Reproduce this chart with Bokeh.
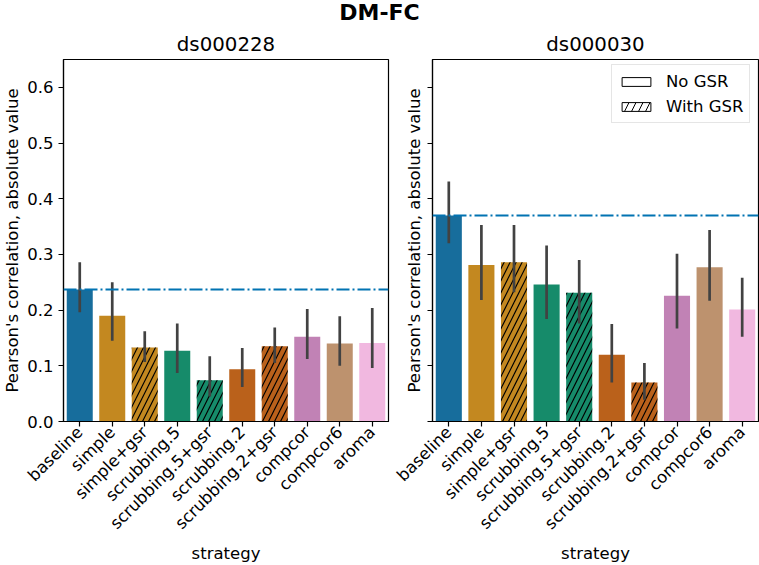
from math import pi
from bokeh.plotting import figure
from bokeh.models import (ColumnDataSource, FactorRange, Range1d, Span, Legend, Div,
                          LegendItem, FixedTicker, PrintfTickFormatter, CustomJSTickFormatter)
from bokeh.layouts import column, row
from bokeh.embed import file_html
from bokeh.resources import INLINE

FONT = "DejaVu Sans"

strategies = ["baseline", "simple", "simple+gsr", "scrubbing.5", "scrubbing.5+gsr",
              "scrubbing.2", "scrubbing.2+gsr", "compcor", "compcor6", "aroma"]
with_gsr = [False, False, True, False, True, False, True, False, False, False]
bar_colors = ["#176d9c", "#c38820", "#c38820", "#168b6a", "#168b6a",
              "#ba611b", "#ba611b", "#c182b5", "#bd926e", "#f1b8e0"]

ds000228_mean = [0.237, 0.190, 0.133, 0.127, 0.074, 0.094, 0.135, 0.152, 0.140, 0.141]
ds000228_low = [0.196, 0.145, 0.107, 0.087, 0.045, 0.062, 0.105, 0.112, 0.100, 0.096]
ds000228_high = [0.286, 0.250, 0.162, 0.176, 0.117, 0.132, 0.169, 0.202, 0.189, 0.204]

ds000030_mean = [0.370, 0.281, 0.286, 0.246, 0.231, 0.120, 0.070, 0.226, 0.277, 0.201]
ds000030_low = [0.320, 0.218, 0.232, 0.184, 0.176, 0.070, 0.039, 0.167, 0.217, 0.152]
ds000030_high = [0.431, 0.353, 0.353, 0.316, 0.290, 0.175, 0.105, 0.301, 0.344, 0.258]

y_ticks = [0.0, 0.1, 0.2, 0.3, 0.4, 0.5, 0.6]
legend_labels = ["No GSR", "With GSR"]

HEADER_H = 26
PANEL_H = 565 - HEADER_H


def make_panel(title, means, lows, highs, width, left, right, show_labels, legend=False):
    p = figure(x_range=FactorRange(*strategies), y_range=Range1d(0, 0.65),
               width=width, height=PANEL_H, title=title, output_backend="svg",
               toolbar_location=None, min_border_left=left, min_border_right=right,
               min_border_top=59 - HEADER_H, min_border_bottom=0)
    p.title.text_font = FONT
    p.title.text_font_size = "19.8px"
    p.title.text_font_style = "normal"
    p.title.text_color = "black"
    p.title.align = "center"
    p.title.standoff = 8
    p.grid.visible = False
    p.outline_line_color = "black"
    p.outline_line_width = 1.2

    hatch = ["/" if g else " " for g in with_gsr]
    src = ColumnDataSource(data=dict(strategy=strategies, mean=means, low=lows, high=highs,
                                     color=bar_colors, hatch=hatch))
    p.vbar(x="strategy", top="mean", width=0.8, source=src, fill_color="color",
           line_color=None, hatch_pattern="hatch", hatch_color="black",
           hatch_scale=12, hatch_weight=1.2)
    p.segment(x0="strategy", y0="low", x1="strategy", y1="high", source=src,
              line_color="#424242", line_width=2.7)
    p.add_layout(Span(location=means[0], dimension="width", line_color="#0173b2",
                      line_width=2, line_dash="13 3 2 3"))

    for ax in p.axis:
        ax.axis_line_width = 1.2
        ax.major_tick_line_width = 1.2
        ax.major_tick_in = 0
        ax.major_tick_out = 5
        ax.minor_tick_line_color = None
        ax.major_label_text_font = FONT
        ax.major_label_text_font_size = "16.5px"
        ax.major_label_text_color = "black"
        ax.axis_label_text_font = FONT
        ax.axis_label_text_font_size = "16.5px"
        ax.axis_label_text_font_style = "normal"
        ax.axis_label_text_color = "black"

    p.xaxis.axis_label = "strategy"
    p.xaxis.major_label_orientation = pi / 4
    p.xaxis.major_label_standoff = 3
    p.xaxis.axis_label_standoff = 1

    p.yaxis.axis_label = "Pearson's correlation, absolute value"
    p.yaxis.ticker = FixedTicker(ticks=y_ticks)
    if show_labels:
        p.yaxis.formatter = PrintfTickFormatter(format="%.1f")
        p.yaxis.major_label_standoff = 5
        p.yaxis.axis_label_standoff = 2
    else:
        p.yaxis.formatter = CustomJSTickFormatter(code="return ''")
        p.yaxis.major_label_standoff = 0
        p.yaxis.axis_label_standoff = 4

    if legend:
        dummy = ColumnDataSource(data=dict(x=["baseline"], top=[-0.5], bottom=[-0.6]))
        r1 = p.vbar(x="x", top="top", bottom="bottom", width=0.8, source=dummy,
                    fill_color="white", line_color="black", line_width=1)
        r2 = p.vbar(x="x", top="top", bottom="bottom", width=0.8, source=dummy,
                    fill_color="white", line_color="black", line_width=1,
                    hatch_pattern="/", hatch_color="black", hatch_scale=14, hatch_weight=1)
        lg = Legend(items=[LegendItem(label=legend_labels[0], renderers=[r1]),
                           LegendItem(label=legend_labels[1], renderers=[r2])],
                    location=(179, 298))
        lg.label_text_font = FONT
        lg.label_text_font_size = "16.5px"
        lg.label_text_color = "black"
        lg.glyph_width = 36
        lg.glyph_height = 11
        lg.label_height = 20
        lg.spacing = 5
        lg.padding = 6
        lg.margin = 0
        lg.label_standoff = 12
        lg.border_line_color = "#cccccc"
        lg.border_line_width = 1
        lg.background_fill_alpha = 0.8
        p.add_layout(lg)
    return p


p1 = make_panel("ds000228", ds000228_mean, ds000228_low, ds000228_high, 390, 62, 2, True)
p2 = make_panel("ds000030", ds000030_mean, ds000030_low, ds000030_high, 369, 42, 1, False,
                legend=True)

header = Div(text="DM-FC", width=759, height=HEADER_H, margin=0,
             styles={"text-align": "center", "font-family": FONT, "font-size": "22px",
                     "font-weight": "bold", "line-height": "26px", "color": "black",
                     "width": "759px"})

layout = column(header, row(p1, p2))
open("out.html", "w").write(file_html(layout, INLINE))
